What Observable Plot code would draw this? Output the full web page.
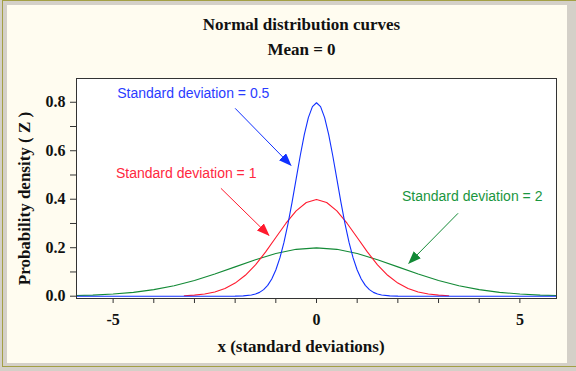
<!DOCTYPE html>
<html><head><meta charset="utf-8">
<script src="https://cdn.jsdelivr.net/npm/d3@7"></script>
<script src="https://cdn.jsdelivr.net/npm/@observablehq/plot@0.6"></script>
<style>
html,body{margin:0;padding:0;background:#d4d0c8;}
#wrap{position:relative;width:576px;height:371px;overflow:hidden;background:#d4d0c8;}
#olive{position:absolute;left:2px;top:0;width:620px;height:367px;border:1px solid #a39f45;box-sizing:border-box;}
#panel{position:absolute;left:7px;top:5px;width:560px;height:358px;background:#fffcf0;}
#chart{position:absolute;left:0;top:0;}
</style>
</head><body>
<div id="wrap"><div id="olive"></div><div id="panel"></div><div id="chart"></div></div>
<script>
// Series: x positions and read density values
const xBlue = [-6,-2.5,-2,-1.8,-1.6,-1.5,-1.4,-1.3,-1.2,-1.1,-1,-0.9,-0.8,-0.7,-0.6,-0.5,-0.4,-0.3,-0.2,-0.1,0,0.1,0.2,0.3,0.4,0.5,0.6,0.7,0.8,0.9,1,1.1,1.2,1.3,1.4,1.5,1.6,1.8,2,2.5,6];
const yBlue = [0,0,0.0003,0.0012,0.0048,0.0089,0.0158,0.0271,0.0448,0.0709,0.108,0.1579,0.2218,0.2995,0.3884,0.4839,0.5794,0.6665,0.7366,0.7821,0.7979,0.7821,0.7366,0.6665,0.5794,0.4839,0.3884,0.2995,0.2218,0.1579,0.108,0.0709,0.0448,0.0271,0.0158,0.0089,0.0048,0.0012,0.0003,0,0];
const xRed = [-3.25,-3,-2.75,-2.5,-2.25,-2,-1.75,-1.5,-1.25,-1,-0.75,-0.5,-0.25,0,0.25,0.5,0.75,1,1.25,1.5,1.75,2,2.25,2.5,2.75,3,3.25];
const yRed = [0.002,0.0044,0.0091,0.0175,0.0317,0.054,0.0863,0.1295,0.1826,0.242,0.3011,0.3521,0.3867,0.3989,0.3867,0.3521,0.3011,0.242,0.1826,0.1295,0.0863,0.054,0.0317,0.0175,0.0091,0.0044,0.002];
const xGreen = [-6,-5.5,-5,-4.5,-4,-3.5,-3,-2.5,-2,-1.5,-1,-0.5,0,0.5,1,1.5,2,2.5,3,3.5,4,4.5,5,5.5,6];
const yGreen = [0.0022,0.0045,0.0088,0.0159,0.027,0.0431,0.0648,0.0913,0.121,0.1506,0.176,0.1933,0.1995,0.1933,0.176,0.1506,0.121,0.0913,0.0648,0.0431,0.027,0.0159,0.0088,0.0045,0.0022];

// Ticks
const xTicks = [-5,-4,-3,-2,-1,0,1,2,3,4,5];
const xTickLabels = ["-5","","","","","0","","","","","5"];
const yTicks = [0,0.1,0.2,0.3,0.4,0.5,0.6,0.7,0.8];
const yTickLabels = ["0.0","","0.2","","0.4","","0.6","","0.8"];

// Annotations (data units)
const noteText = ["Standard deviation = 0.5","Standard deviation = 1","Standard deviation = 2"];
const noteX = [-4.9,-4.93,2.1];
const noteY = [0.836,0.508,0.412];
const arrowX1 = [-2.0,-2.35,3.48];
const arrowY1 = [0.775,0.445,0.342];
const arrowX2 = [-0.63,-1.17,2.27];
const arrowY2 = [0.54,0.251,0.136];
const lineColors = ["#1030ff","#ff1a2e","#138a36"];
const textColors = ["#2a3cff","#ff2840","#1a9640"];

const title = "Normal distribution curves";
const subtitle = "Mean = 0";
const xLabel = "x (standard deviations)";
const yLabel = "Probability density ( Z )";

const toRows = (xs, ys) => xs.map((x, i) => ({x, y: ys[i]}));
const blue = toRows(xBlue, yBlue), red = toRows(xRed, yRed), green = toRows(xGreen, yGreen);
const notes = noteText.map((t, i) => ({t, x: noteX[i], y: noteY[i], x1: arrowX1[i], y1: arrowY1[i], x2: arrowX2[i], y2: arrowY2[i], c: lineColors[i], tc: textColors[i]}));

function filledHead(color) {
  const ns = "http://www.w3.org/2000/svg";
  const m = document.createElementNS(ns, "marker");
  m.setAttribute("viewBox", "0 -5 13 10");
  m.setAttribute("refX", "12");
  m.setAttribute("refY", "0");
  m.setAttribute("markerWidth", "13");
  m.setAttribute("markerHeight", "10");
  m.setAttribute("markerUnits", "userSpaceOnUse");
  m.setAttribute("orient", "auto");
  const p = document.createElementNS(ns, "path");
  p.setAttribute("d", "M0,-5L13,0L0,5Z");
  p.setAttribute("fill", color);
  p.setAttribute("stroke", "none");
  m.appendChild(p);
  return m;
}

const serif = "'Liberation Serif', 'Times New Roman', serif";
const sans = "'Liberation Sans', Arial, sans-serif";
const lbl = {textAnchor: "middle", lineAnchor: "middle", fontFamily: serif, fontSize: 17, fontWeight: "bold", fill: "#111"};

const marks = [
  Plot.frame({fill: "white", stroke: "none"}),
  Plot.axisX({ticks: xTicks, tickFormat: d => xTickLabels[xTicks.indexOf(d)], tickSize: 5, tickPadding: 10, label: null, fontSize: 16, fontWeight: "bold", fontFamily: serif, stroke: "#333"}),
  Plot.axisY({ticks: yTicks, tickFormat: d => yTickLabels[yTicks.findIndex(t => Math.abs(t - d) < 1e-9)], tickSize: 6, tickPadding: 5, label: null, fontSize: 16, fontWeight: "bold", fontFamily: serif, stroke: "#333"}),
  Plot.line(green, {x: "x", y: "y", stroke: lineColors[2], strokeWidth: 1.1, clip: true}),
  Plot.line(red, {x: "x", y: "y", stroke: lineColors[1], strokeWidth: 1.1, clip: true}),
  Plot.line(blue, {x: "x", y: "y", stroke: lineColors[0], strokeWidth: 1.1, clip: true}),
];
notes.forEach(n => {
  marks.push(Plot.link([n], {x1: "x1", y1: "y1", x2: "x2", y2: "y2", stroke: n.c, strokeWidth: 1, markerEnd: filledHead}));
  marks.push(Plot.text([n], {x: "x", y: "y", text: "t", fill: n.tc, textAnchor: "start", fontFamily: sans, fontSize: 14, fontWeight: "normal"}));
});
marks.push(
  Plot.frame({stroke: "#333", strokeWidth: 1}),
  Plot.text([title], {...lbl, frameAnchor: "top", text: d => d, dx: -15, dy: -54}),
  Plot.text([subtitle], {...lbl, frameAnchor: "top", text: d => d, dx: -15, dy: -28.5}),
  Plot.text([xLabel], {...lbl, frameAnchor: "bottom", text: d => d, dx: -15.5, dy: 48.5}),
  Plot.text([yLabel], {...lbl, frameAnchor: "left", text: d => d, rotate: -90, dx: -52, dy: 10})
);

const chart = Plot.plot({
  width: 576,
  height: 371,
  marginLeft: 76,
  marginRight: 20,
  marginTop: 78,
  marginBottom: 73,
  x: {domain: [-5.9, 5.9]},
  y: {domain: [-0.0095, 0.898]},
  style: {background: "transparent", color: "#111", overflow: "visible"},
  marks
});
document.getElementById("chart").appendChild(chart);
</script>
</body></html>
